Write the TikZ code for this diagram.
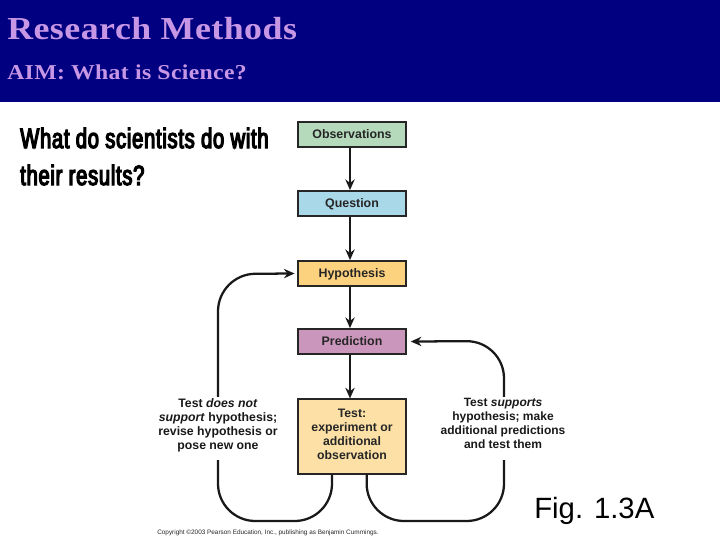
\documentclass[tikz,border=0pt]{standalone}
\usepackage{fontspec}
\setmainfont{Liberation Sans}
\newfontfamily\titlefont{Liberation Serif}[FakeStretch=1.12,LetterSpace=1.5]
\newfontfamily\headfont{Liberation Sans}[FakeStretch=0.72,FakeBold=4.5,LetterSpace=2.6]
\usepackage{tikz}
\usetikzlibrary{arrows.meta}
\definecolor{bandblue}{HTML}{000080}
\definecolor{titlelilac}{HTML}{C797E6}
\definecolor{obsgreen}{HTML}{B5DABB}
\definecolor{quesblue}{HTML}{A9D8E8}
\definecolor{hypoorange}{HTML}{FDD27F}
\definecolor{predpink}{HTML}{CB96BC}
\definecolor{testtan}{HTML}{FCE0A6}
\tikzset{
	stagebox/.style={draw=black!85,line width=1.1pt,minimum width=81pt,minimum height=19pt,inner sep=0pt,text height=6.8pt,text depth=1.4pt,font=\fontsize{9.3}{10}\selectfont\bfseries,text=black!85},
	testbox/.style={draw=black!85,line width=1.1pt,minimum width=81pt,minimum height=56pt,inner sep=0pt,align=center,font=\fontsize{9.2}{10.5}\selectfont\bfseries,text=black!85},
	looplabel/.style={fill=white,inner sep=1pt,align=center,font=\fontsize{9.2}{10.5}\selectfont\bfseries,text=black!90},
	flow/.style={line width=1.7pt,-{Stealth[length=8pt,width=7pt]},black!90},
	loopline/.style={line width=1.7pt,-{Stealth[length=8pt,width=7pt]},black!90}
}
\begin{document}
\begin{tikzpicture}[x=0.75pt,y=-0.75pt]
	\useasboundingbox (0,0) rectangle (720,540);
	\fill[bandblue] (0,0) rectangle (720,102);
	\node[anchor=base west,inner sep=0pt,text=titlelilac] (title) at (7,39) {\fontsize{24}{28}\selectfont\titlefont\bfseries Research Methods};
	\node[anchor=base west,inner sep=0pt,text=titlelilac] (aim) at (7,79) {\fontsize{15.9}{18}\selectfont\titlefont\bfseries AIM: What is Science?};
	\node[anchor=base west,inner sep=0pt] (head1) at (20,148) {\fontsize{21}{24}\selectfont\headfont What do scientists do with};
	\node[anchor=base west,inner sep=0pt] (head2) at (20,185) {\fontsize{21}{24}\selectfont\headfont their results?};

	\node[stagebox,fill=obsgreen] (obs) at (352,134.5) {Observations};
	\node[stagebox,fill=quesblue] (ques) at (352,203.5) {Question};
	\node[stagebox,fill=hypoorange] (hypo) at (352,273.5) {Hypothesis};
	\node[stagebox,fill=predpink] (pred) at (352,341.5) {Prediction};
	\node[testbox,fill=testtan] (test) at (352,436.5) {Test:\\experiment or\\additional\\observation\rule[-4pt]{0pt}{1pt}};

	\draw[flow] ([xshift=-1.5pt]obs.south) -- ([xshift=-1.5pt]ques.north);
	\draw[flow] ([xshift=-1.5pt]ques.south) -- ([xshift=-1.5pt]hypo.north);
	\draw[flow] ([xshift=-1.5pt]hypo.south) -- ([xshift=-1.5pt]pred.north);
	\draw[flow] ([xshift=-1.5pt]pred.south) -- ([xshift=-1.5pt]test.north);

	\coordinate (lowleft) at (218,521);
	\coordinate (upleft) at (218,274);
	\coordinate (lowright) at (504,521);
	\coordinate (upright) at (504,341);
	\draw[loopline,rounded corners=28pt] ([xshift=-15pt]test.south) |- (lowleft) -- (upleft) -- ([xshift=-2pt]hypo.west);
	\draw[loopline,rounded corners=28pt] ([xshift=11pt]test.south) |- (lowright) -- (upright) -- ([xshift=3pt]pred.east);

	\node[looplabel,anchor=north] (nosupport) at (218,396.5) {Test \textit{does not}\\\textit{support} hypothesis;\\revise hypothesis or\\pose new one\\[-3pt]~};
	\node[looplabel,anchor=north,font=\fontsize{9}{10.5}\selectfont\bfseries] (supports) at (503,396.5) {Test \textit{supports}\\hypothesis; make\\additional predictions\\and test them\\[-3pt]~};
	\node[anchor=base west,inner sep=0pt] (fig) at (534,518) {\fontsize{22}{26}\selectfont Fig. 1.3A};
	\node[anchor=base west,inner sep=0pt,text=black!85] (copy) at (157,534) {\fontsize{4.8}{6}\selectfont Copyright ©2003 Pearson Education, Inc., publishing as Benjamin Cummings.};
\end{tikzpicture}
\end{document}
